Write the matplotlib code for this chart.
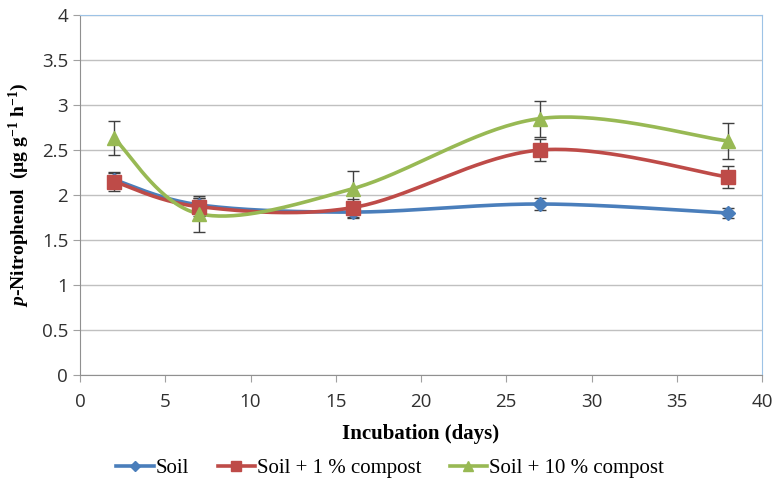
import matplotlib.pyplot as plt
import numpy as np

plt.rcParams["mathtext.fontset"] = "custom"
plt.rcParams["mathtext.it"] = "Liberation Serif:italic:bold"
plt.rcParams["mathtext.rm"] = "Liberation Serif:bold"
plt.rcParams["mathtext.bf"] = "Liberation Serif:bold"

days = [2, 7, 16, 27, 38]
soil = [2.17, 1.89, 1.81, 1.90, 1.80]
soil_err = [0.07, 0.08, 0.06, 0.07, 0.06]
soil_1 = [2.15, 1.87, 1.86, 2.50, 2.20]
soil_1_err = [0.11, 0.10, 0.10, 0.12, 0.12]
soil_10 = [2.63, 1.79, 2.07, 2.85, 2.60]
soil_10_err = [0.19, 0.20, 0.20, 0.20, 0.20]

series = [
    ("Soil", soil, soil_err, "#4a7ebb", "D", 7),
    ("Soil + 1 % compost", soil_1, soil_1_err, "#be4b48", "s", 10),
    ("Soil + 10 % compost", soil_10, soil_10_err, "#98b954", "^", 10),
]


def smooth(x, y, n=40):
    # Excel-style smoothed line: cubic Bezier with Catmull-Rom control points
    x = np.asarray(x, float)
    y = np.asarray(y, float)
    px = np.concatenate([[x[0]], x, [x[-1]]])
    py = np.concatenate([[y[0]], y, [y[-1]]])
    xs, ys = [], []
    t = np.linspace(0, 1, n)
    for i in range(1, len(px) - 2):
        p0 = np.array([px[i], py[i]])
        p3 = np.array([px[i + 1], py[i + 1]])
        c1 = p0 + (np.array([px[i + 1], py[i + 1]]) - np.array([px[i - 1], py[i - 1]])) / 6
        c2 = p3 - (np.array([px[i + 2], py[i + 2]]) - np.array([px[i], py[i]])) / 6
        b = ((1 - t) ** 3)[:, None] * p0 + (3 * (1 - t) ** 2 * t)[:, None] * c1 \
            + (3 * (1 - t) * t ** 2)[:, None] * c2 + (t ** 3)[:, None] * p3
        xs.extend(b[:, 0])
        ys.extend(b[:, 1])
    return xs, ys


fig = plt.figure(figsize=(7.74, 4.79), dpi=100)
ax = fig.add_axes([80 / 774, 1 - 375 / 479, 682 / 774, 360 / 479])

for label, vals, err, color, marker, ms in series:
    sx, sy = smooth(days, vals)
    ax.plot(sx, sy, color=color, lw=2.6, zorder=3)
    ax.errorbar(days, vals, yerr=err, fmt="none", ecolor="#404040", elinewidth=1,
                capsize=4, capthick=1, zorder=4)
    ax.plot(days, vals, ls="none", marker=marker, color=color, ms=ms, zorder=5)
    ax.plot([], [], color=color, marker=marker, ms=ms * 0.75, lw=2.6, label=label)

ax.set_xlim(0, 40)
ax.set_ylim(0, 4)
ax.set_xticks(np.arange(0, 41, 5))
ax.set_yticks(np.arange(0, 4.01, 0.5))
ax.set_yticklabels(["0", "0.5", "1", "1.5", "2", "2.5", "3", "3.5", "4"])
ax.yaxis.grid(True, color="#c0c0c0", lw=1)
ax.set_axisbelow(True)
ax.tick_params(labelsize=13.5, color="#a0a0a0", length=5, direction="out")
ax.tick_params(axis="x", pad=8)
for lab in ax.get_xticklabels() + ax.get_yticklabels():
    lab.set_fontfamily("Open Sans")
    lab.set_color("#303030")

ax.spines["left"].set_color("#909090")
ax.spines["bottom"].set_color("#909090")
ax.spines["top"].set_color("#9dc3e6")
ax.spines["right"].set_color("#9dc3e6")

ax.set_xlabel("Incubation (days)", fontfamily="Liberation Serif", fontweight="bold",
              fontsize=15, labelpad=9)
ax.set_ylabel(r"$p$-Nitrophenol  (µg g$^{-1}$ h$^{-1}$)",
              fontfamily="Liberation Serif", fontweight="bold", fontsize=14, labelpad=8)

ax.legend(loc="upper center", bbox_to_anchor=(0.455, -0.181), ncol=3, frameon=False,
          prop={"family": "Liberation Serif", "size": 15}, handlelength=1.8,
          handletextpad=0.1, columnspacing=1.35)

fig.savefig("out.png", dpi=100)
